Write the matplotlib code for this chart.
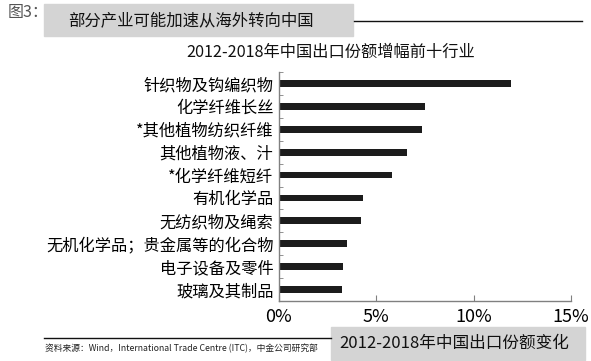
import numpy as np
import matplotlib
matplotlib.use("Agg")
import matplotlib.pyplot as plt
from matplotlib.patches import Rectangle
from matplotlib.lines import Line2D
from matplotlib.ticker import FixedLocator

plt.rcParams['font.family'] = ['Noto Sans CJK SC', 'DejaVu Sans']

# 2012-2018年中国出口份额增幅前十行业 (%)
industries = ["针织物及钩编织物", "化学纤维长丝", "*其他植物纺织纤维", "其他植物液、汁",
              "*化学纤维短纤", "有机化学品", "无纺织物及绳索",
              "无机化学品；贵金属等的化合物", "电子设备及零件", "玻璃及其制品"]
share_change = [11.9, 7.5, 7.35, 6.6, 5.8, 4.33, 4.23, 3.47, 3.27, 3.22]
x_ticks = [0, 5, 10, 15]
x_tick_labels = ["0%", "5%", "10%", "15%"]

W, H = 591, 361
fig = plt.figure(figsize=(W / 100, H / 100), dpi=100)

def fx(px):
    return px / W

def fy(py):
    return 1 - py / H

ax = fig.add_axes([fx(279), fy(301), fx(571) - fx(279), fy(72) - fy(301)])
y = np.arange(len(industries))
ax.barh(y, share_change, height=0.3, color="#1c1c1c")
ax.set_ylim(len(industries) - 0.5, -0.5)
ax.set_xlim(0, 15)

ax.set_yticks(y)
ax.set_yticklabels(industries, fontsize=11.7)
ax.tick_params(axis="y", length=0, pad=4)
ax.yaxis.set_minor_locator(FixedLocator(np.arange(-0.5, len(industries), 1)))
ax.tick_params(axis="y", which="minor", direction="in", length=3, color="#808080")

ax.set_xticks(x_ticks)
ax.set_xticklabels(x_tick_labels, fontsize=13)
ax.tick_params(axis="x", direction="in", length=4, color="#808080", pad=5)

for s in ["top", "right"]:
    ax.spines[s].set_visible(False)
for s in ["left", "bottom"]:
    ax.spines[s].set_color("#808080")
    ax.spines[s].set_linewidth(1)

# header
fig.text(fx(8), fy(12), "图3：", fontsize=11.5, color="#555555", va="center", ha="left")
fig.patches.append(Rectangle((fx(44), fy(36)), fx(353) - fx(44), fy(4) - fy(36),
                             transform=fig.transFigure, color="#d4d4d4", zorder=0))
fig.text(fx(68), fy(21), "部分产业可能加速从海外转向中国", fontsize=11.8, style="italic",
         color="#111111", va="center", ha="left")
fig.lines.append(Line2D([fx(354), fx(582)], [fy(21), fy(21)], transform=fig.transFigure,
                        color="#111111", linewidth=1))

fig.text(fx(331), fy(52), "2012-2018年中国出口份额增幅前十行业", fontsize=11.7,
         color="#111111", va="center", ha="center")

# footer
fig.lines.append(Line2D([fx(44), fx(331)], [fy(338), fy(338)], transform=fig.transFigure,
                        color="#111111", linewidth=1))
fig.text(fx(45), fy(348), "资料来源：Wind，International Trade Centre (ITC)，中金公司研究部",
         fontsize=6.3, style="italic", color="#222222", va="center", ha="left")
fig.patches.append(Rectangle((fx(331), fy(360)), fx(585) - fx(331), fy(327) - fy(360),
                             transform=fig.transFigure, color="#d4d4d4", zorder=0))
fig.text(fx(454), fy(343), "2012-2018年中国出口份额变化", fontsize=12,
         color="#111111", va="center", ha="center")

fig.savefig("out.png", dpi=100)
